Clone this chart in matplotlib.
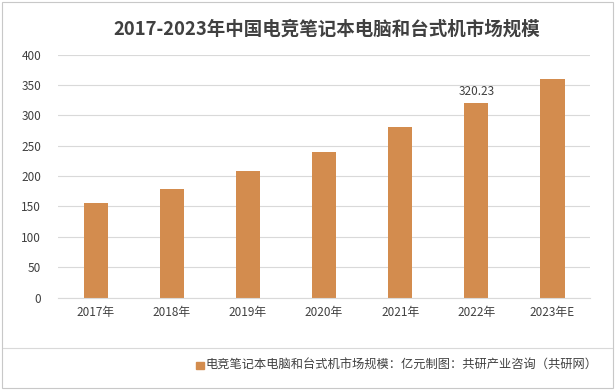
import matplotlib.pyplot as plt
from matplotlib.patches import Rectangle

plt.rcParams['font.family'] = ['Noto Sans CJK SC', 'DejaVu Sans']

# data
years = ['2017年', '2018年', '2019年', '2020年', '2021年', '2022年', '2023年E']
values = [156.0, 178.0, 209.0, 239.0, 280.0, 320.23, 360.0]
y_ticks = [0, 50, 100, 150, 200, 250, 300, 350, 400]

bar_color = '#D38C4E'
text_color = '#404040'

fig = plt.figure(figsize=(6.15, 3.9), dpi=100)
ax = fig.add_axes([0.094, 0.237, 0.866, 0.623])

x = range(len(years))
ax.bar(x, values, width=0.32, color=bar_color, zorder=2)

# only the 2022 value is labelled
ax.text(5, values[5] + 8, f'{values[5]:.2f}', ha='center', va='bottom',
        fontsize=8.5, color=text_color)

ax.set_xlim(-0.5, len(years) - 0.5)
ax.set_ylim(0, 400)
ax.set_yticks(y_ticks)
ax.set_xticks(list(x))
ax.set_xticklabels(years)
ax.tick_params(axis='both', length=0, labelsize=8.5, colors=text_color)
ax.tick_params(axis='y', pad=12)
ax.tick_params(axis='x', pad=6)
ax.grid(axis='y', color='#D9D9D9', linewidth=0.8, zorder=0)
for s in ['top', 'right', 'left']:
    ax.spines[s].set_visible(False)
ax.spines['bottom'].set_color('#D9D9D9')

fig.suptitle('2017-2023年中国电竞笔记本电脑和台式机市场规模', x=0.531, y=0.95,
             fontsize=13.3, fontweight='bold', color=text_color)

# separator above legend and outer border
fig.add_artist(plt.Line2D([0.005, 0.995], [0.108, 0.108], color='#D9D9D9', lw=0.8))
fig.add_artist(Rectangle((0.003, 0.005), 0.993, 0.99, fill=False,
                         edgecolor='#C8C8C8', lw=0.8, transform=fig.transFigure))

# legend row
fig.add_artist(Rectangle((0.319, 0.053), 0.012, 0.02, color=bar_color,
                         transform=fig.transFigure))
fig.text(0.334, 0.063, '电竞笔记本电脑和台式机市场规模：亿元制图：共研产业咨询（共研网）',
         fontsize=8.8, color=text_color, va='center', ha='left')

fig.savefig('out.png', dpi=100)
